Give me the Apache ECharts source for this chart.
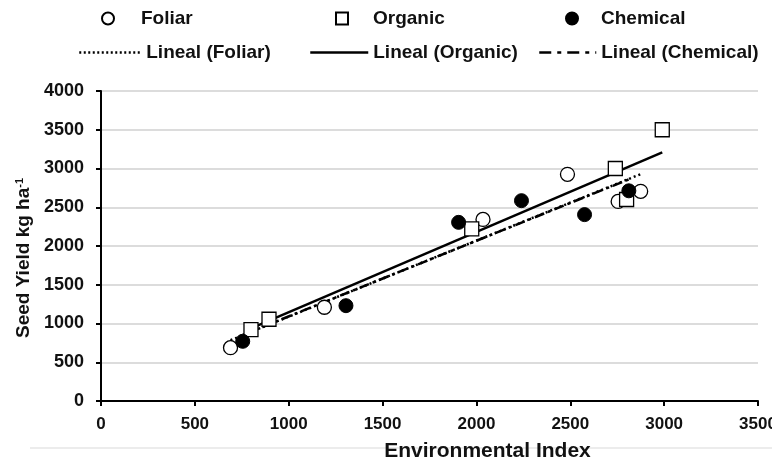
<!DOCTYPE html>
<html><head><meta charset="utf-8">
<script src="https://cdn.jsdelivr.net/npm/echarts@6/dist/echarts.min.js"></script>
<style>html,body{margin:0;padding:0;background:#fff}#c{width:772px;height:463px}</style>
</head><body><div id="c"></div>
<script>
// Data
const foliarX = [690, 1190, 2035, 2485, 2755, 2875];
const foliarY = [688, 1210, 2343, 2925, 2575, 2705];
const organicX = [799, 895, 1975, 2740, 2800, 2990];
const organicY = [920, 1055, 2220, 3000, 2600, 3500];
const chemicalX = [755, 1305, 1905, 2240, 2576, 2812];
const chemicalY = [770, 1230, 2305, 2585, 2405, 2712];
const xTicks = [0, 3500, 500];
const yTicks = [0, 4000, 500];

function pairs(xs, ys) { return xs.map((x, i) => [x, ys[i]]); }
function trend(xs, ys) {
  const n = xs.length;
  const mx = xs.reduce((a, b) => a + b, 0) / n;
  const my = ys.reduce((a, b) => a + b, 0) / n;
  let sxy = 0, sxx = 0;
  for (let i = 0; i < n; i++) { sxy += (xs[i] - mx) * (ys[i] - my); sxx += (xs[i] - mx) ** 2; }
  const b = sxy / sxx, a = my - b * mx;
  const x0 = Math.min(...xs), x1 = Math.max(...xs);
  return [[x0, a + b * x0], [x1, a + b * x1]];
}

const FONT = 'Liberation Sans, Arial, sans-serif';
const chart = echarts.init(document.getElementById('c'), null, { renderer: 'canvas' });
const legendText = { fontFamily: FONT, fontWeight: 'bold', fontSize: 19, color: '#111' };
function lg(name, left, top, w, h, pad, lineType) {
  const o = { data: [name], left: left, top: top, padding: 0, itemWidth: w, itemHeight: h, selectedMode: false,
    textStyle: Object.assign({}, legendText, { padding: [0, 0, 0, pad] }) };
  if (lineType) {
    o.itemStyle = { opacity: 0 };
    o.lineStyle = { width: 2.5, color: '#000', type: lineType };
  }
  return o;
}
chart.setOption({
  animation: false,
  backgroundColor: '#fff',
  legend: [
    lg('Foliar', 101, 9, 12, 12, 22),
    lg('Organic', 335, 9, 12, 12, 20),
    lg('Chemical', 565, 9, 12, 12, 18),
    lg('Lineal (Foliar)', 78, 43, 62, 14, 0, [2, 2.5]),
    lg('Lineal (Organic)', 309, 43, 58, 14, 0, 'solid'),
    lg('Lineal (Chemical)', 538, 43, 57, 14, 0, [12, 6, 4, 6])
  ],
  grid: { left: 101, right: 14, top: 91, bottom: 62, outerBoundsMode: 'none', containLabel: false },
  xAxis: {
    type: 'value', min: xTicks[0], max: xTicks[1], interval: xTicks[2],
    name: 'Environmental Index', nameLocation: 'middle', nameGap: 40,
    nameTextStyle: { fontFamily: FONT, fontWeight: 'bold', fontSize: 21, color: '#111', padding: [0, 0, 0, 116] },
    axisLine: { lineStyle: { color: '#000', width: 2 } },
    axisTick: { lineStyle: { color: '#000', width: 2 }, length: 5 },
    axisLabel: { fontFamily: FONT, fontWeight: 'bold', fontSize: 17, color: '#111', margin: 15, formatter: v => String(v) },
    splitLine: { show: false }
  },
  yAxis: {
    type: 'value', min: yTicks[0], max: yTicks[1], interval: yTicks[2],
    name: '{a|Seed Yield kg ha}{b|-1}', nameLocation: 'middle', nameGap: 64,
    nameTextStyle: { padding: [0, 24, 0, 0], rich: {
      a: { fontFamily: FONT, fontWeight: 'bold', fontSize: 19, color: '#111' },
      b: { fontFamily: FONT, fontWeight: 'bold', fontSize: 11, color: '#111', verticalAlign: 'top', padding: [0, 0, 8, 0] }
    } },
    axisLine: { show: true, lineStyle: { color: '#000', width: 2 } },
    axisTick: { show: true, lineStyle: { color: '#000', width: 2 }, length: 5 },
    axisLabel: { fontFamily: FONT, fontWeight: 'bold', fontSize: 18, color: '#111', margin: 17, formatter: v => String(v) },
    splitLine: { show: true, lineStyle: { color: '#dcdcdc', width: 2 } }
  },
  graphic: [{ type: 'line', shape: { x1: 30, y1: 448, x2: 772, y2: 448 }, style: { stroke: '#ececec', lineWidth: 2 }, silent: true }],
  series: [
    { name: 'Lineal (Foliar)', type: 'line', data: trend(foliarX, foliarY), symbol: 'none', z: 3,
      lineStyle: { color: '#000', width: 2.5, type: [2, 3] }, itemStyle: { color: '#000' } },
    { name: 'Lineal (Organic)', type: 'line', data: trend(organicX, organicY), symbol: 'none', z: 3,
      lineStyle: { color: '#000', width: 2.5, type: 'solid' }, itemStyle: { color: '#000' } },
    { name: 'Lineal (Chemical)', type: 'line', data: trend(chemicalX, chemicalY), symbol: 'none', z: 3,
      lineStyle: { color: '#000', width: 2.5, type: [10, 4, 3, 4] }, itemStyle: { color: '#000' } },
    { name: 'Foliar', type: 'scatter', data: pairs(foliarX, foliarY), symbol: 'circle', symbolSize: 14, z: 4,
      itemStyle: { color: '#fff', borderColor: '#000', borderWidth: 1.3, opacity: 1 } },
    { name: 'Organic', type: 'scatter', data: pairs(organicX, organicY), symbol: 'rect', symbolSize: 14, z: 4,
      itemStyle: { color: '#fff', borderColor: '#000', borderWidth: 1.3, opacity: 1 } },
    { name: 'Chemical', type: 'scatter', data: pairs(chemicalX, chemicalY), symbol: 'circle', symbolSize: 14, z: 5,
      itemStyle: { color: '#000', borderColor: '#000', borderWidth: 1, opacity: 1 } }
  ]
});
</script></body></html>
